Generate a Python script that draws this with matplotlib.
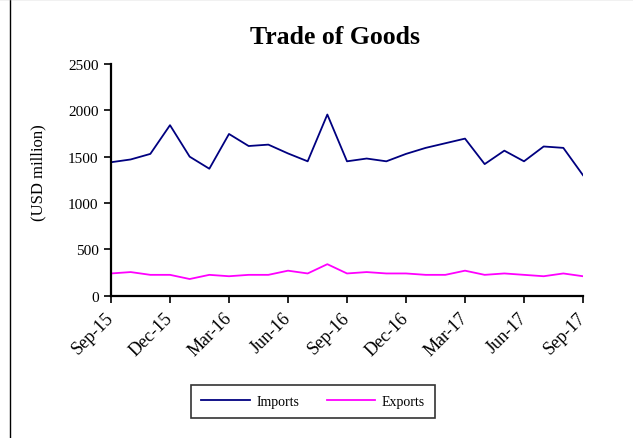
import numpy as np
import matplotlib
matplotlib.use("Agg")
from matplotlib import pyplot as plt
from matplotlib.lines import Line2D

months = ["Sep-15", "Oct-15", "Nov-15", "Dec-15", "Jan-16", "Feb-16", "Mar-16",
          "Apr-16", "May-16", "Jun-16", "Jul-16", "Aug-16", "Sep-16", "Oct-16",
          "Nov-16", "Dec-16", "Jan-17", "Feb-17", "Mar-17", "Apr-17", "May-17",
          "Jun-17", "Jul-17", "Aug-17", "Sep-17"]
imports = [1440, 1470, 1530, 1840, 1500, 1370, 1745, 1615, 1630, 1535, 1450, 1955,
           1450, 1480, 1450, 1530, 1595, 1645, 1695, 1420, 1565, 1450, 1610, 1595, 1300]
exports = [240, 255, 225, 225, 180, 225, 210, 225, 225, 270, 240, 340,
           240, 255, 240, 240, 225, 225, 270, 225, 240, 225, 210, 240, 210]

plt.rcParams["font.family"] = ["Liberation Serif", "DejaVu Serif"]

fig = plt.figure(figsize=(6.33, 4.39), dpi=100)
ax = fig.add_axes([111 / 633, 1 - 296.7 / 439, 472 / 633, 231.7 / 439])

x = np.arange(len(months))
ax.plot(x, imports, color="#000080", lw=1.3, label="Imports")
ax.plot(x, exports, color="#ff00ff", lw=1.3, label="Exports")

ax.set_xlim(0, len(months) - 1)
ax.set_ylim(0, 2500)
ax.set_yticks(range(0, 2501, 500))
ax.set_xticks(x[::3])
ax.set_xticklabels(months[::3], rotation=45, ha="right", va="center",
                   rotation_mode="anchor", fontsize=13)
ax.tick_params(axis="y", labelsize=11, length=5, width=1.2, pad=4)
ax.tick_params(axis="x", length=5, width=1.2, pad=9)
for s in ["top", "right"]:
    ax.spines[s].set_visible(False)
for s in ["left", "bottom"]:
    ax.spines[s].set_linewidth(1.6)

fig.text(335 / 633, 1 - 38 / 439, "Trade of Goods", ha="center", va="center",
         fontsize=18.5, fontweight="bold")
fig.text(38 / 633, 1 - 173 / 439, "(USD million)", ha="center", va="center",
         rotation=90, fontsize=12)

leg = fig.legend(loc="center", bbox_to_anchor=(313 / 633, 1 - 402.5 / 439), ncol=2,
                 fontsize=10, frameon=True, fancybox=False, edgecolor="black",
                 handlelength=3.5, handletextpad=0.45, columnspacing=2.0,
                 borderpad=0.75, borderaxespad=0)
leg.get_frame().set_linewidth(1.2)

# figure border remnants
fig.add_artist(Line2D([10 / 633, 10 / 633], [0, 1], color="black", lw=1.0))
fig.add_artist(Line2D([0, 1], [0.999, 0.999], color="#bbbbbb", lw=1.0))

fig.savefig("out.png", dpi=100)
